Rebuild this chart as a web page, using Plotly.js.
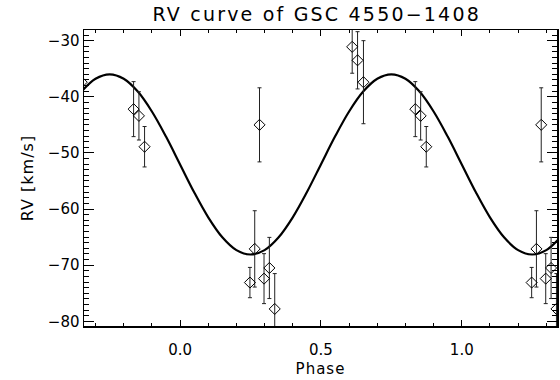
<!DOCTYPE html>
<html>
<head>
<meta charset="utf-8">
<script src="https://cdn.plot.ly/plotly-3.0.1.min.js"></script>
<style>
  html, body { margin: 0; padding: 0; background: #fff; }
  #chart { width: 560px; height: 380px; }
  .gtitle { letter-spacing: 2.2px; }
  .xtitle, .ytitle { letter-spacing: 1px; }
</style>
</head>
<body>
<div id="chart"></div>
<script>
// Observed radial velocities (phase in [0,1))
const obsPhase = [0.611, 0.630, 0.651, 0.835, 0.854, 0.874, 0.282, 0.248, 0.265, 0.298, 0.317, 0.336];
const obsRV    = [-31.1, -33.5, -37.4, -42.2, -43.4, -48.9, -45.0, -73.1, -67.1, -72.4, -70.5, -77.8];
const obsErr   = [4.7, 5.1, 7.4, 4.9, 4.3, 3.6, 6.6, 2.7, 6.8, 4.45, 5.45, 6.3];

// Fitted RV curve
const curvePhase = [-0.35,-0.30,-0.25,-0.20,-0.15,-0.10,-0.05,0.00,0.05,0.10,0.15,0.20,0.25,0.30,0.35,0.40,0.45,0.50,0.55,0.60,0.65,0.70,0.75,0.80,0.85,0.90,0.95,1.00,1.05,1.10,1.15,1.20,1.25,1.30,1.35];
const curveRV    = [-39.07,-36.78,-36.00,-36.78,-39.07,-42.62,-47.09,-52.05,-57.01,-61.48,-65.03,-67.32,-68.10,-67.32,-65.03,-61.48,-57.01,-52.05,-47.09,-42.62,-39.07,-36.78,-36.00,-36.78,-39.07,-42.62,-47.09,-52.05,-57.01,-61.48,-65.03,-67.32,-68.10,-67.32,-65.03];

// Tick labels
const xTickVals = [0.0, 0.5, 1.0];
const xTickText = ['0.0', '0.5', '1.0'];
const yTickVals = [-80, -70, -60, -50, -40, -30];
const yTickText = ['\u221280', '\u221270', '\u221260', '\u221250', '\u221240', '\u221230'];

const cycles = [-1, 0, 1];
const px = [], py = [], pe = [];
cycles.forEach(c => {
  obsPhase.forEach((p, i) => { px.push(p + c); py.push(obsRV[i]); pe.push(obsErr[i]); });
});

const font = 'DejaVu Sans, Liberation Sans, sans-serif';

const traces = [
  {
    x: curvePhase, y: curveRV, type: 'scatter', mode: 'lines',
    line: { color: '#000', width: 2.2, shape: 'spline', smoothing: 1 },
    hoverinfo: 'skip', showlegend: false
  },
  {
    x: px, y: py, type: 'scatter', mode: 'markers',
    marker: { symbol: 'diamond-open', size: 8.5, color: '#000', line: { color: '#000', width: 1 } },
    error_y: { type: 'data', array: pe, visible: true, color: '#222', thickness: 1, width: 2 },
    showlegend: false
  }
];

const axisCommon = {
  showgrid: false, zeroline: false, showline: true, linecolor: '#000', linewidth: 1.5,
  mirror: 'allticks', ticks: 'inside', tickcolor: '#000', tickwidth: 1,
  tickfont: { family: font, size: 15, color: '#000' }
};

const layout = {
  width: 560, height: 380,
  margin: { l: 84, r: 3, t: 30, b: 54 },
  paper_bgcolor: '#fff', plot_bgcolor: '#fff',
  font: { family: font, color: '#000' },
  title: {
    text: 'RV curve of GSC 4550\u22121408',
    font: { family: font, size: 19, color: '#000' },
    x: 0.492, xref: 'paper', xanchor: 'center',
    y: 0.962, yref: 'container', yanchor: 'middle'
  },
  xaxis: Object.assign({}, axisCommon, {
    range: [-0.341, 1.338],
    tickmode: 'array', tickvals: xTickVals, ticktext: xTickText,
    ticklen: 6, ticklabelstandoff: 9,
    minor: { dtick: 0.1, tick0: 0, ticks: 'inside', ticklen: 3, tickcolor: '#000', tickwidth: 1, showgrid: false },
    title: { text: 'Phase', font: { family: font, size: 15, color: '#000' }, standoff: 6 }
  }),
  yaxis: Object.assign({}, axisCommon, {
    range: [-80.84, -28.1],
    tickmode: 'array', tickvals: yTickVals, ticktext: yTickText,
    ticklen: 10,
    minor: { dtick: 1, tick0: 0, ticks: 'inside', ticklen: 5, tickcolor: '#000', tickwidth: 1, showgrid: false },
    title: { text: 'RV [km/s]', font: { family: font, size: 16, color: '#000' }, standoff: 10 }
  })
};

Plotly.newPlot('chart', traces, layout, { displayModeBar: false, staticPlot: true });
</script>
</body>
</html>
